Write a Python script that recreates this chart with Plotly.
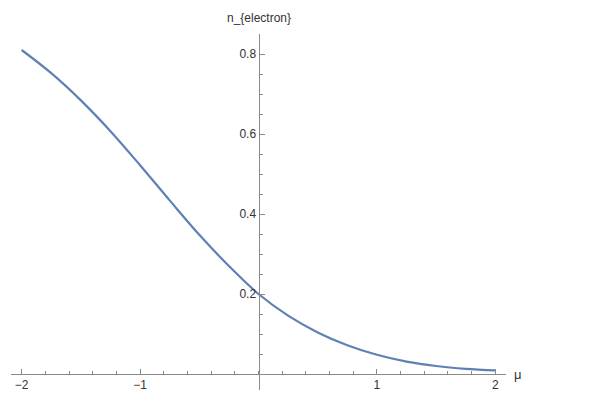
import plotly.graph_objects as go

# Data
mu = [-2.0, -1.75, -1.5, -1.25, -1.0, -0.75, -0.5, -0.25, 0.0,
      0.25, 0.5, 0.75, 1.0, 1.25, 1.5, 1.75, 2.0]
n_electron = [0.81, 0.752, 0.684, 0.607, 0.522, 0.434, 0.348, 0.270, 0.200,
              0.146, 0.104, 0.072, 0.048, 0.031, 0.020, 0.013, 0.009]

x_tickvals = [-2, -1, 1, 2]
x_ticktext = ["\u22122", "\u22121", "1", "2"]
y_tickvals = [0.2, 0.4, 0.6, 0.8]
y_ticktext = ["0.2", "0.4", "0.6", "0.8"]

x_range = [-2.09, 2.09]
y_range = [-0.04, 0.85]

axis_color = "#8a8a8a"
text_color = "#333333"
font_family = "Liberation Sans, Arial, sans-serif"

fig = go.Figure()
fig.add_trace(go.Scatter(
    x=mu, y=n_electron, mode="lines",
    line=dict(color="#5E81B5", width=2.2, shape="spline", smoothing=1.0),
    showlegend=False, hoverinfo="skip",
))

fig.update_layout(
    width=612, height=401,
    margin=dict(l=3, r=114, t=26, b=19),
    paper_bgcolor="white", plot_bgcolor="white",
    font=dict(family=font_family, size=12, color=text_color),
    xaxis=dict(
        range=x_range, showgrid=False, zeroline=False,
        showline=True, linecolor=axis_color, linewidth=1,
        anchor="free", position=(0 - y_range[0]) / (y_range[1] - y_range[0]),
        tickmode="array", tickvals=x_tickvals, ticktext=x_ticktext,
        ticks="inside", ticklen=5, tickcolor=axis_color, tickwidth=1,
        minor=dict(dtick=0.2, tick0=0, ticks="inside", ticklen=3,
                   tickcolor=axis_color, tickwidth=1, showgrid=False),
        tickfont=dict(size=12, color=text_color),
    ),
    yaxis=dict(
        range=y_range, showgrid=False, zeroline=False,
        showline=True, linecolor=axis_color, linewidth=1,
        anchor="free", position=(0 - x_range[0]) / (x_range[1] - x_range[0]),
        tickmode="array", tickvals=y_tickvals, ticktext=y_ticktext,
        ticks="inside", ticklen=5, tickcolor=axis_color, tickwidth=1,
        minor=dict(dtick=0.05, tick0=0, ticks="inside", ticklen=3,
                   tickcolor=axis_color, tickwidth=1, showgrid=False),
        tickfont=dict(size=12, color=text_color),
    ),
    annotations=[
        dict(text="n_{electron}", xref="x", yref="paper", x=0, y=1,
             yshift=7, xanchor="center", yanchor="bottom", showarrow=False,
             font=dict(size=12, color=text_color)),
        dict(text="\u03bc", xref="paper", yref="y", x=1, y=0,
             xshift=6, xanchor="left", yanchor="middle", showarrow=False,
             font=dict(size=13, color=text_color)),
    ],
)

fig.write_html("out.html")
